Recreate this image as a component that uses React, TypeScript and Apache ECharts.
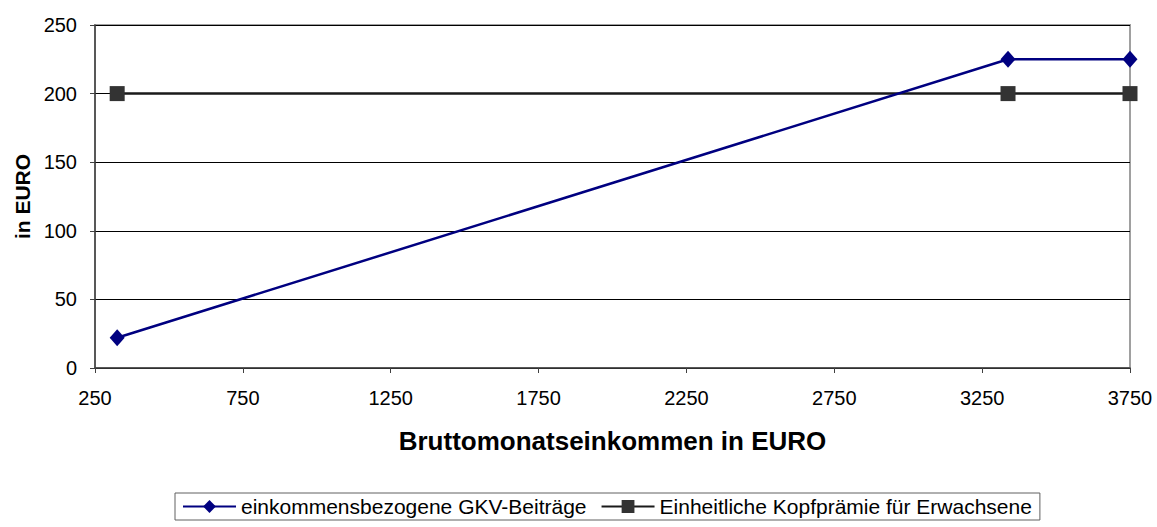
import React, { useEffect, useRef } from "react";
import * as echarts from "echarts";

const incomeGKV = [325, 3337.5, 3750];
const valuesGKV = [22, 225, 225];
const incomeKopf = [325, 3337.5, 3750];
const valuesKopf = [200, 200, 200];
const seriesNames = ["einkommensbezogene GKV-Beiträge", "Einheitliche Kopfprämie für Erwachsene"];

export default function App() {
  const ref = useRef<HTMLDivElement>(null);
  useEffect(() => {
    if (!ref.current) return;
    const chart = echarts.init(ref.current, undefined, { renderer: "svg" });
    const font = "Arial, 'Liberation Sans', sans-serif";
    chart.setOption({
      animation: false,
      backgroundColor: "#ffffff",
      textStyle: { fontFamily: font },
      grid: {
        left: 95,
        right: 27,
        top: 25,
        bottom: 159,
        show: true,
        borderColor: "#a0a0a0",
        borderWidth: 2,
        backgroundColor: "transparent",
      },
      legend: {
        top: 493,
        left: 175,
        itemWidth: 53,
        itemHeight: 16,
        itemGap: 14,
        padding: [3, 8, 3, 7],
        borderColor: "#606060",
        borderWidth: 1,
        borderRadius: 0,
        textStyle: { fontSize: 21, color: "#000", fontFamily: font },
        data: seriesNames,
      },
      xAxis: {
        type: "value",
        min: 250,
        max: 3750,
        interval: 500,
        name: "Bruttomonatseinkommen in EURO",
        nameLocation: "middle",
        nameGap: 60,
        nameTextStyle: { fontSize: 26, fontWeight: "bold", color: "#000", fontFamily: font },
        axisLine: { show: true, lineStyle: { color: "#404040", width: 1.5 } },
        axisTick: { show: true, inside: false, length: 5, lineStyle: { color: "#404040" } },
        axisLabel: {
          fontSize: 20,
          color: "#000",
          margin: 20,
          fontFamily: font,
          formatter: (v: number) => String(v),
        },
        splitLine: { show: false },
      },
      yAxis: {
        type: "value",
        min: 0,
        max: 250,
        interval: 50,
        name: "in EURO",
        nameLocation: "middle",
        nameGap: 55,
        nameRotate: 90,
        nameTextStyle: { fontSize: 21, fontWeight: "bold", color: "#000", fontFamily: font },
        axisLine: { show: true, lineStyle: { color: "#404040", width: 1.5 } },
        axisTick: { show: true, inside: false, length: 5, lineStyle: { color: "#404040" } },
        axisLabel: { fontSize: 20, color: "#000", margin: 18, fontFamily: font },
        splitLine: { show: true, lineStyle: { color: "#000", width: 1 } },
      },
      series: [
        {
          name: seriesNames[1],
          type: "line",
          data: incomeKopf.map((x, i) => [x, valuesKopf[i]]),
          symbol: "rect",
          symbolSize: 15,
          lineStyle: { color: "#1a1a1a", width: 2.5 },
          itemStyle: { color: "#333333" },
          z: 3,
        },
        {
          name: seriesNames[0],
          type: "line",
          data: incomeGKV.map((x, i) => [x, valuesGKV[i]]),
          symbol: "diamond",
          symbolSize: [15, 17],
          lineStyle: { color: "#000080", width: 2.5 },
          itemStyle: { color: "#000080" },
          z: 4,
        },
      ],
    });
    return () => chart.dispose();
  }, []);
  return (
    <div
      ref={ref}
      style={{ position: "absolute", left: 0, top: 0, width: 1157, height: 527 }}
    />
  );
}
